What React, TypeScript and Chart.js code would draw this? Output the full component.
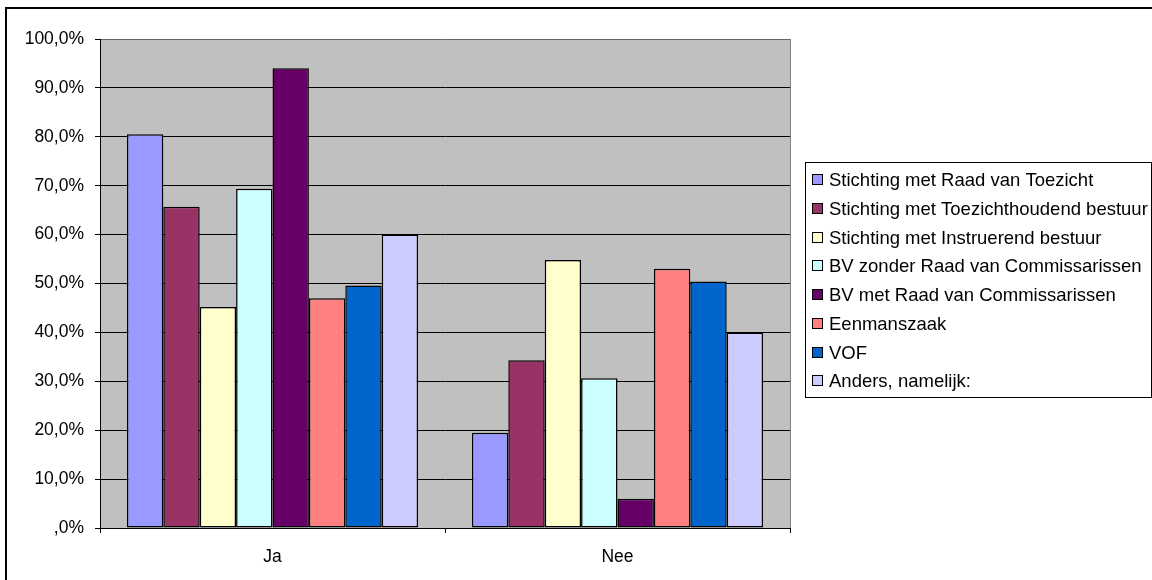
import React, { useEffect, useRef } from "react";
import { Chart, registerables } from "chart.js";

Chart.register(...registerables);

// Answer categories on the x axis
const categories = ["Ja", "Nee"];

// Legal forms, one series each
const seriesNames = [
  "Stichting met Raad van Toezicht",
  "Stichting met Toezichthoudend bestuur",
  "Stichting met Instruerend bestuur",
  "BV zonder Raad van Commissarissen",
  "BV met Raad van Commissarissen",
  "Eenmanszaak",
  "VOF",
  "Anders, namelijk:",
];

const seriesColors = [
  "#9999FF",
  "#993366",
  "#FFFFCC",
  "#CCFFFF",
  "#660066",
  "#FF8080",
  "#0066CC",
  "#CCCCFF",
];

// Percentages per series: [Ja, Nee]
const stichtingRvT = [80.5, 19.5];
const stichtingToezichthoudend = [65.7, 34.3];
const stichtingInstruerend = [45.2, 54.8];
const bvZonderRvC = [69.4, 30.6];
const bvMetRvC = [94.0, 6.0];
const eenmanszaak = [47.0, 53.0];
const vof = [49.6, 50.4];
const anders = [60.0, 40.0];

const seriesValues = [
  stichtingRvT,
  stichtingToezichthoudend,
  stichtingInstruerend,
  bvZonderRvC,
  bvMetRvC,
  eenmanszaak,
  vof,
  anders,
];

const yTickLabels = [
  ",0%",
  "10,0%",
  "20,0%",
  "30,0%",
  "40,0%",
  "50,0%",
  "60,0%",
  "70,0%",
  "80,0%",
  "90,0%",
  "100,0%",
];

const FONT = "'Liberation Sans', Arial, sans-serif";

// Grey plot background, plot border, outer frame and boxed legend
const decorations = {
  id: "decorations",
  beforeDraw(chart: any) {
    const { ctx, chartArea: a } = chart;
    ctx.save();
    ctx.fillStyle = "#ffffff";
    ctx.fillRect(0, 0, chart.width, chart.height);
    ctx.fillStyle = "#C0C0C0";
    ctx.fillRect(a.left, a.top, a.right - a.left, a.bottom - a.top);
    ctx.restore();
  },
  afterDatasetsDraw(chart: any) {
    const { ctx, chartArea: a } = chart;
    ctx.save();
    ctx.strokeStyle = "#808080";
    ctx.lineWidth = 1;
    ctx.beginPath();
    ctx.moveTo(a.right + 0.5, a.top);
    ctx.lineTo(a.right + 0.5, a.bottom);
    ctx.stroke();
    ctx.restore();
  },
  afterDraw(chart: any) {
    const { ctx } = chart;
    ctx.save();
    // outer frame
    ctx.strokeStyle = "#000";
    ctx.lineWidth = 2;
    ctx.strokeRect(6, 8, 1300, 700);

    // legend box
    ctx.lineWidth = 1;
    ctx.fillStyle = "#ffffff";
    ctx.fillRect(805.5, 162.5, 346, 235);
    ctx.strokeRect(805.5, 162.5, 346, 235);

    ctx.font = `18.5px ${FONT}`;
    ctx.textBaseline = "middle";
    ctx.textAlign = "left";
    chart.data.datasets.forEach((ds: any, i: number) => {
      const cy = Math.round(180 + i * 28.75);
      ctx.fillStyle = ds.backgroundColor;
      ctx.fillRect(812.5, cy - 5.5, 10, 10);
      ctx.strokeStyle = "#000";
      ctx.strokeRect(812.5, cy - 5.5, 10, 10);
      ctx.fillStyle = "#000";
      ctx.fillText(ds.label, 829, cy + 1);
    });
    ctx.restore();
  },
};

export default function App() {
  const canvasRef = useRef<HTMLCanvasElement | null>(null);

  useEffect(() => {
    if (!canvasRef.current) return;
    const chart = new Chart(canvasRef.current, {
      type: "bar",
      data: {
        labels: categories,
        datasets: seriesNames.map((name, i) => ({
          label: name,
          data: seriesValues[i],
          backgroundColor: seriesColors[i],
          borderColor: "#000",
          borderWidth: 1.5,
          borderSkipped: false,
          categoryPercentage: 0.844,
          barPercentage: 1,
        })),
      },
      options: {
        responsive: false,
        animation: false,
        devicePixelRatio: 1,
        layout: { padding: { left: 0, right: 362, top: 39, bottom: 0 } },
        plugins: {
          legend: { display: false },
          title: { display: false },
          tooltip: { enabled: false },
        },
        scales: {
          x: {
            offset: true,
            afterFit: (s: any) => {
              s.height = 52;
            },
            border: { color: "#000", width: 1 },
            grid: {
              offset: true,
              drawOnChartArea: false,
              drawTicks: true,
              tickLength: 5,
              color: "#000",
            },
            ticks: {
              color: "#000",
              font: { family: FONT, size: 17.5 },
              padding: 14,
            },
          },
          y: {
            min: 0,
            max: 100,
            afterFit: (s: any) => {
              s.width = 100;
            },
            border: { color: "#000", width: 1 },
            grid: {
              color: (c: any) => (c.tick && c.tick.value === 100 ? "#666666" : "#000"),
              tickColor: "#000",
              tickLength: 5,
              drawTicks: true,
            },
            ticks: {
              stepSize: 10,
              color: "#000",
              font: { family: FONT, size: 17.5 },
              padding: 11,
              callback: (_v: any, idx: number) => yTickLabels[idx],
            },
          },
        },
      },
      plugins: [decorations],
    });
    return () => chart.destroy();
  }, []);

  return (
    <div style={{ position: "absolute", left: 0, top: 0, width: 1152, height: 580 }}>
      <canvas ref={canvasRef} width={1152} height={580} />
    </div>
  );
}
